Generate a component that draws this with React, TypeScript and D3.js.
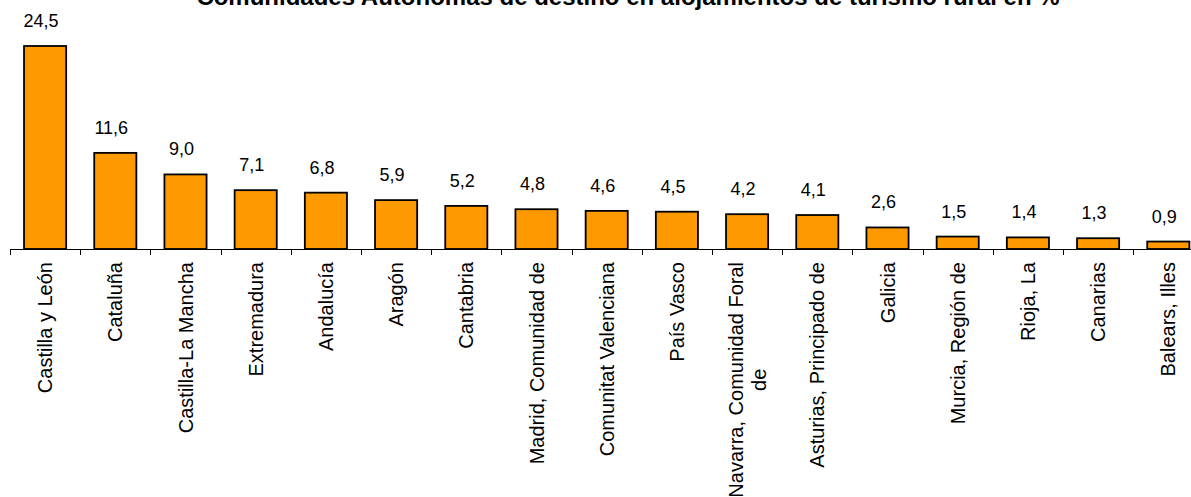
import React, { useEffect, useRef } from 'react';
import * as d3 from 'd3';

// Comunidades autónomas (some labels wrap onto two lines)
const regions: string[][] = [
  ['Castilla y León'],
  ['Cataluña'],
  ['Castilla-La Mancha'],
  ['Extremadura'],
  ['Andalucía'],
  ['Aragón'],
  ['Cantabria'],
  ['Madrid, Comunidad de'],
  ['Comunitat Valenciana'],
  ['País Vasco'],
  ['Navarra, Comunidad Foral', 'de'],
  ['Asturias, Principado de'],
  ['Galicia'],
  ['Murcia, Región de'],
  ['Rioja, La'],
  ['Canarias'],
  ['Balears, Illes'],
];

const shares: number[] = [24.5, 11.6, 9.0, 7.1, 6.8, 5.9, 5.2, 4.8, 4.6, 4.5, 4.2, 4.1, 2.6, 1.5, 1.4, 1.3, 0.9];

const title = 'Comunidades Autónomas de destino en alojamientos de turismo rural en %';

const App = () => {
  const ref = useRef<SVGSVGElement>(null);

  useEffect(() => {
    if (!ref.current) return;
    const svg = d3.select(ref.current);
    svg.selectAll('*').remove();

    const W = 1191;
    const H = 497;
    const baseY = 249;
    const left = 10;
    const step = 70.2;
    const font = 'Liberation Sans, Arial, sans-serif';

    const keys = regions.map((_, i) => String(i));
    const x = d3.scaleBand<string>()
      .domain(keys)
      .range([left, left + step * keys.length])
      .paddingInner(0.4)
      .paddingOuter(0.2);

    const y = d3.scaleLinear().domain([0, 24.5]).range([baseY, 46]);

    // title (sits partly above the top edge, as in the original)
    svg.append('text')
      .attr('x', 628)
      .attr('y', 5)
      .attr('text-anchor', 'middle')
      .style('font-family', font)
      .style('font-size', '24px')
      .style('font-weight', 'bold')
      .text(title);

    // bars
    svg.selectAll('.bar')
      .data(shares)
      .enter()
      .append('rect')
      .attr('class', 'bar')
      .attr('x', (_, i) => x(String(i))!)
      .attr('y', d => y(d))
      .attr('width', x.bandwidth())
      .attr('height', d => baseY - y(d))
      .attr('fill', '#FF9900')
      .attr('stroke', '#000')
      .attr('stroke-width', 1.8);

    // value labels
    svg.selectAll('.val')
      .data(shares)
      .enter()
      .append('text')
      .attr('class', 'val')
      .attr('x', (_, i) => x(String(i))! + x.bandwidth() / 2 - 4)
      .attr('y', d => y(d) - 19)
      .attr('text-anchor', 'middle')
      .style('font-family', font)
      .style('font-size', '18px')
      .text(d => d.toFixed(1).replace('.', ','));

    // axis line + ticks between categories
    svg.append('line')
      .attr('x1', left)
      .attr('x2', W)
      .attr('y1', baseY + 0.5)
      .attr('y2', baseY + 0.5)
      .attr('stroke', '#000')
      .attr('stroke-width', 1);

    const ticks = d3.range(keys.length + 1).map(i => left + i * step);
    svg.selectAll('.tick')
      .data(ticks)
      .enter()
      .append('line')
      .attr('x1', d => Math.round(d) + 0.5)
      .attr('x2', d => Math.round(d) + 0.5)
      .attr('y1', baseY)
      .attr('y2', baseY + 6)
      .attr('stroke', '#000');

    // category labels, rotated
    const labelTop = 262;
    regions.forEach((lines, i) => {
      const cx = x(String(i))! + x.bandwidth() / 2;
      const g = svg.append('g').attr('transform', `translate(${cx},${labelTop}) rotate(-90)`);
      const lineH = 23;
      const first = g.append('text')
        .attr('x', 0)
        .attr('y', -((lines.length - 1) * lineH) / 2)
        .attr('dy', '0.35em')
        .attr('text-anchor', 'end')
        .style('font-family', font)
        .style('font-size', '20px')
        .text(lines[0]);
      const len = (first.node() as SVGTextElement).getComputedTextLength();
      lines.slice(1).forEach((ln, j) => {
        g.append('text')
          .attr('x', -len / 2)
          .attr('y', -((lines.length - 1) * lineH) / 2 + (j + 1) * lineH)
          .attr('dy', '0.35em')
          .attr('text-anchor', 'middle')
          .style('font-family', font)
          .style('font-size', '20px')
          .text(ln);
      });
    });

    svg.attr('width', W).attr('height', H);
  }, []);

  return (
    <div style={{ position: 'absolute', left: 0, top: 0, background: '#fff' }}>
      <svg ref={ref} width={1191} height={497} style={{ display: 'block' }} />
    </div>
  );
};

export default App;
